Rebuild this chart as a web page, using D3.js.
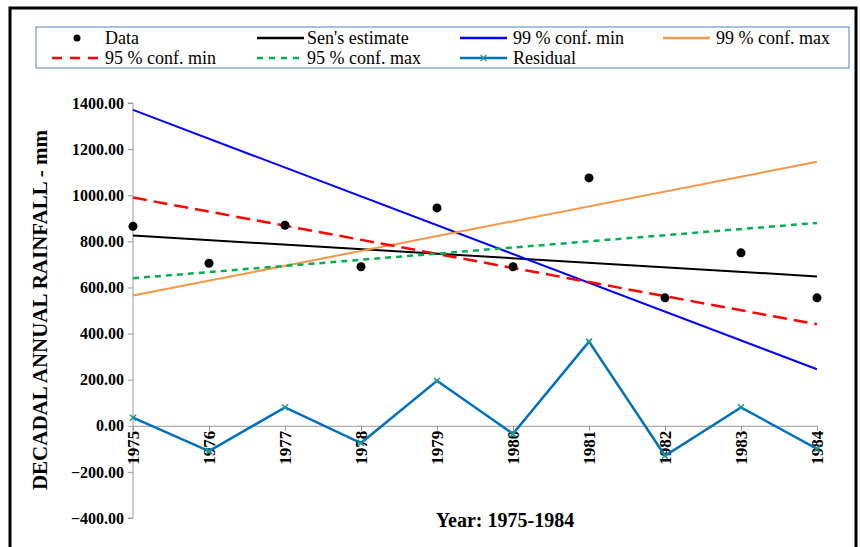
<!DOCTYPE html>
<html><head><meta charset="utf-8">
<script src="https://cdn.jsdelivr.net/npm/d3@7"></script>
<style>body{margin:0;background:#fff}svg text{font-family:'Liberation Serif','DejaVu Serif',serif !important}</style>
</head><body><div id="chart"></div>
<script>
const years = [1975,1976,1977,1978,1979,1980,1981,1982,1983,1984];
const data = [865,705,870,690,945,690,1075,555,750,555];
const residual = [35,-110,80,-75,195,-35,365,-130,80,-100];
const sen = [825,648];
const conf99min = [1370,245];
const conf99max = [565,1145];
const conf95min = [990,440];
const conf95max = [640,880];
const yTicks = [-400,-200,0,200,400,600,800,1000,1200,1400];

const width = 860, height = 547;
const svg = d3.select("#chart").append("svg").attr("width", width).attr("height", height);
svg.append("rect").attr("x",10).attr("y",8).attr("width",846).attr("height",560)
  .attr("fill","none").attr("stroke","#000").attr("stroke-width",3);

const x = d3.scaleLinear().domain([1975,1984]).range([133,817]);
const y = d3.scaleLinear().domain([-400,1400]).range([518,103]);

const ya = svg.append("g").attr("transform","translate(133,0)")
  .call(d3.axisLeft(y).tickValues(yTicks).tickSize(5).tickFormat(d3.format(".2f")));
ya.attr("font-family",null);
ya.select(".domain").attr("stroke","#999").attr("d","M-5,518H0V103H-5");
ya.selectAll(".tick line").attr("stroke","#999");
ya.selectAll("text").style("font-size","16px").style("font-weight","bold").attr("fill","#000").attr("dx",-1);

const xa = svg.append("g").attr("transform",`translate(0,${y(0)})`)
  .call(d3.axisBottom(x).tickValues(years).tickSize(5).tickFormat(d3.format("d")));
xa.attr("font-family",null);
xa.select(".domain").attr("stroke","#999");
xa.selectAll(".tick line").attr("stroke","#999");
xa.selectAll("text").style("font-size","17px").style("font-weight","bold").attr("fill","#000")
  .attr("transform","rotate(-90)").attr("text-anchor","end").attr("x",-5).attr("y",0).attr("dy","0.35em");

const ends = [1975,1984];
const line2 = (vals, color, dash, w) => svg.append("path")
  .attr("d", d3.line().x((d,i)=>x(ends[i])).y(d=>y(d))(vals))
  .attr("fill","none").attr("stroke",color).attr("stroke-width",w).attr("stroke-dasharray",dash);

line2(sen,"#000",null,2);
line2(conf99min,"#0000ff",null,2);
line2(conf99max,"#f79646",null,2);
line2(conf95min,"#ff0000","14,7",2.5);
line2(conf95max,"#00b050","6,5",2.5);

svg.append("path").attr("d", d3.line().x((d,i)=>x(years[i])).y(d=>y(d))(residual))
  .attr("fill","none").attr("stroke","#0070c0").attr("stroke-width",2.5);
svg.selectAll(".rm").data(residual).enter().append("path")
  .attr("transform",(d,i)=>`translate(${x(years[i])},${y(d)})`)
  .attr("d","M-3,-3L3,3M-3,3L3,-3").attr("stroke","#1a9a8a").attr("stroke-width",1.5);

svg.selectAll(".dot").data(data).enter().append("circle")
  .attr("cx",(d,i)=>x(years[i])).attr("cy",d=>y(d)).attr("r",4.5).attr("fill","#000");

svg.append("text").attr("transform","translate(47,310) rotate(-90)").attr("text-anchor","middle")
  .attr("font-size",21).attr("font-weight","bold").text("DECADAL ANNUAL RAINFALL - mm");
svg.append("text").attr("x",505).attr("y",527).attr("text-anchor","middle")
  .attr("font-size",20).attr("font-weight","bold").text("Year: 1975-1984");

// legend
svg.append("rect").attr("x",36).attr("y",27).attr("width",813).attr("height",41)
  .attr("fill","#fff").attr("stroke","#4f81bd").attr("stroke-width",1);
const colX = [[52,99,105],[257,304,307],[460,507,513],[663,710,716]];
const leg = [
  {t:"Data",col:0,y:38,type:"dot"},
  {t:"Sen's estimate",col:1,y:38,c:"#000"},
  {t:"99 % conf. min",col:2,y:38,c:"#0000ff"},
  {t:"99 % conf. max",col:3,y:38,c:"#f79646"},
  {t:"95 % conf. min",col:0,y:58,c:"#ff0000",dash:"10,8"},
  {t:"95 % conf. max",col:1,y:58,c:"#00b050",dash:"6,6"},
  {t:"Residual",col:2,y:58,c:"#0070c0",type:"res"}
];
leg.forEach(l=>{
  const g = svg.append("g");
  const [sx,ex,tx] = colX[l.col];
  if (l.type==="dot") g.append("circle").attr("cx",77).attr("cy",l.y).attr("r",3.5).attr("fill","#000");
  else {
    g.append("line").attr("x1",sx).attr("x2",ex).attr("y1",l.y).attr("y2",l.y)
      .attr("stroke",l.c).attr("stroke-width",2.5).attr("stroke-dasharray",l.dash||null);
    if (l.type==="res") g.append("path").attr("transform",`translate(${(sx+ex)/2},${l.y})`)
      .attr("d","M-3,-3L3,3M-3,3L3,-3").attr("stroke","#1a9a8a").attr("stroke-width",1.2);
  }
  g.append("text").attr("x",tx).attr("y",l.y+6).attr("font-size",18).text(l.t);
});
</script></body></html>
